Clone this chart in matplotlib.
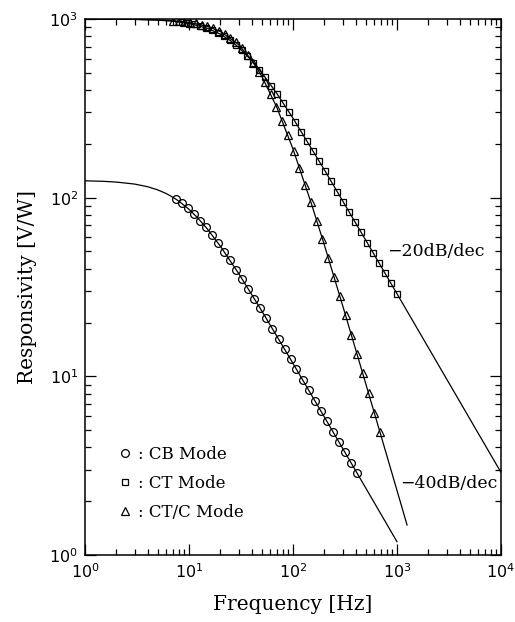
import matplotlib
matplotlib.use("Agg")
import matplotlib.pyplot as plt
from matplotlib.ticker import LogLocator, NullFormatter

# data (frequency in Hz, responsivity in V/W)
cb_freq = [7.50, 8.57, 9.79, 11.2, 12.8, 14.6, 16.7, 19.1, 21.8, 24.9, 28.5,
           32.6, 37.2, 42.6, 48.6, 55.6, 63.5, 72.6, 83.0, 94.8, 108, 124,
           142, 162, 185, 211, 242, 276, 316, 361, 412]
cb_resp = [98.1, 92.8, 87.0, 80.9, 74.5, 68.2, 61.8, 55.7, 49.9, 44.6, 39.5,
           35.0, 30.9, 27.2, 24.0, 21.1, 18.5, 16.2, 14.2, 12.5, 10.96, 9.55,
           8.34, 7.32, 6.41, 5.62, 4.90, 4.30, 3.76, 3.29, 2.88]

ct_freq = [8.51, 9.72, 11.09, 12.66, 14.45, 16.50, 18.84, 21.50, 24.55, 28.02,
           31.99, 36.52, 41.69, 47.59, 54.33, 62.01, 70.79, 80.82, 92.26,
           105.3, 120.2, 137.2, 156.7, 178.9, 204.2, 233.1, 266.1, 303.8,
           346.7, 395.8, 451.9, 515.8, 588.8, 672.2, 767.4, 876.0, 1000]
ct_resp = [959.5, 948.2, 934.0, 916.5, 895.0, 869.2, 838.6, 803.3, 763.2,
           719.2, 671.6, 621.9, 571.0, 520.4, 470.9, 423.6, 379.1, 337.7,
           299.9, 265.6, 234.5, 206.8, 182.0, 160.0, 140.6, 123.5, 108.3, 95.0,
           83.4, 73.1, 64.0, 56.1, 49.2, 43.1, 37.8, 33.1, 29.0]

ctc_freq = [7.015, 7.966, 9.051, 10.28, 11.67, 13.26, 15.06, 17.11, 19.43,
            22.07, 25.06, 28.47, 32.33, 36.73, 41.71, 47.38, 53.81, 61.12,
            69.42, 78.85, 89.54, 101.7, 115.5, 131.2, 149.0, 169.3, 192.2,
            218.4, 248.0, 281.7, 319.9, 363.4, 412.7, 468.8, 532.4, 604.7,
            686.9]
ctc_resp = [979.1, 973.2, 965.7, 956.1, 944.2, 929.1, 910.4, 887.3, 859.2,
            825.5, 785.8, 739.8, 687.9, 630.7, 569.8, 506.5, 443.1, 381.5,
            323.5, 270.4, 223.2, 182.2, 147.3, 118.0, 94.0, 74.4, 58.7, 46.1,
            36.1, 28.2, 22.0, 17.1, 13.3, 10.4, 8.06, 6.26, 4.86]

# fitted curves
cb_fit_f = [1, 1.5, 2, 3, 4, 5, 6, 7, 8, 10, 12, 15, 20, 30, 50, 100, 200,
            500, 1000]
cb_fit_r = [124.3, 123.5, 122.3, 119.2, 115.2, 110.6, 105.7, 100.6, 95.6,
            86.1, 77.6, 66.9, 53.6, 37.7, 23.3, 11.82, 5.93, 2.375, 1.187]

ct_fit_f = [1, 2, 3, 5, 7, 10, 15, 20, 25, 30, 40, 50, 70, 100, 200, 500,
            1000, 2000, 5000, 10000]
ct_fit_r = [999.4, 997.6, 994.7, 985.5, 972.1, 945.4, 888.2, 823.2, 757.4,
            695.0, 587.0, 501.7, 382.7, 278.5, 143.5, 57.9, 29.0, 14.5, 5.80,
            2.90]

ctc_fit_f = [1, 2, 3, 5, 7, 10, 15, 20, 30, 40, 50, 70, 100, 150, 200, 300,
             500, 700, 1000, 1250]
ctc_fit_r = [999.6, 998.3, 996.1, 989.3, 979.2, 958.4, 911.0, 852.1, 719.1,
             590.2, 479.6, 319.8, 187.3, 92.9, 54.5, 24.96, 9.13, 4.68, 2.299,
             1.472]

label_font = {'family': 'DejaVu Serif', 'size': 14.5}
note_font = {'family': 'DejaVu Serif', 'size': 12.5}

fig = plt.figure(figsize=(5.15, 6.22), dpi=100)
ax = fig.add_axes([0.165, 0.1077, 0.8078, 0.8617])

ax.plot(cb_fit_f, cb_fit_r, color='black', lw=0.9)
ax.plot(ct_fit_f, ct_fit_r, color='black', lw=0.9)
ax.plot(ctc_fit_f, ctc_fit_r, color='black', lw=0.9)

mk = dict(linestyle='none', markerfacecolor='none', markeredgecolor='black',
          markeredgewidth=0.9)
ax.plot(cb_freq, cb_resp, marker='o', markersize=5.6, label=': CB Mode', **mk)
ax.plot(ct_freq, ct_resp, marker='s', markersize=4.8, label=': CT Mode', **mk)
ax.plot(ctc_freq, ctc_resp, marker='^', markersize=6, label=': CT/C Mode', **mk)

ax.set_xscale('log')
ax.set_yscale('log')
ax.set_xlim(1, 1e4)
ax.set_ylim(1, 1e3)

for axis in (ax.xaxis, ax.yaxis):
    axis.set_major_locator(LogLocator(base=10))
    axis.set_minor_locator(LogLocator(base=10, subs=range(2, 10)))
    axis.set_minor_formatter(NullFormatter())
ax.tick_params(which='both', direction='in', top=True, right=True,
               labelsize=11.5, width=0.9)
ax.tick_params(which='major', length=8, pad=5)
ax.tick_params(which='minor', length=4)
for s in ax.spines.values():
    s.set_linewidth(1.1)

ax.set_xlabel('Frequency [Hz]', fontdict=label_font, labelpad=10)
ax.set_ylabel('Responsivity [V/W]', fontdict=label_font, labelpad=9)

ax.text(800, 50, '\u221220dB/dec', fontdict=note_font, va='center', ha='left')
ax.text(1070, 2.5, '\u221240dB/dec', fontdict=note_font, va='center', ha='left')

ax.legend(loc='lower left', bbox_to_anchor=(0.04, 0.035), frameon=False,
          handlelength=1.0, handletextpad=0.3, labelspacing=0.72,
          prop={'family': 'DejaVu Serif', 'size': 12})

fig.savefig('out.png', dpi=100)
plt.close(fig)
